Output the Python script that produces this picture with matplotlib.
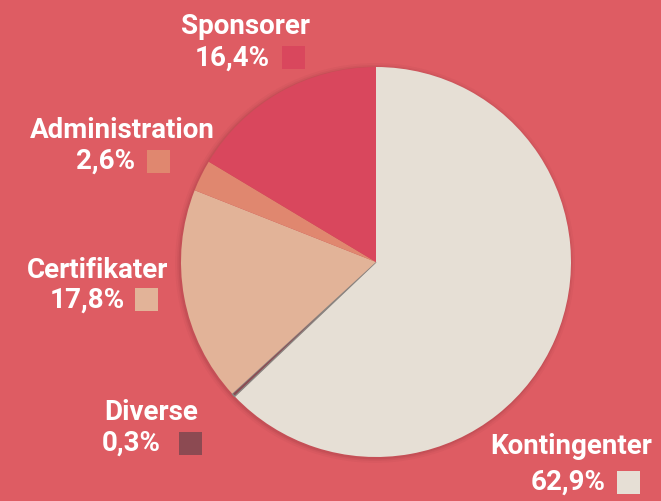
import matplotlib.pyplot as plt
from matplotlib.patches import Rectangle, Circle

W, H = 661, 501

labels = ["Kontingenter", "Diverse", "Certifikater", "Administration", "Sponsorer"]
values = [62.9, 0.3, 17.8, 2.6, 16.4]
pct_text = ["62,9%", "0,3%", "17,8%", "2,6%", "16,4%"]
colors = ["#e6dfd5", "#8c4a52", "#e2b398", "#e0876f", "#d9475d"]
bg = "#de5c63"

fig = plt.figure(figsize=(W / 100, H / 100), dpi=100)
fig.patch.set_facecolor(bg)

cx, cy, r = 376, 262, 195
ax = fig.add_axes([(cx - r) / W, (H - cy - r) / H, 2 * r / W, 2 * r / H])
ax.set_facecolor(bg)

# soft shadow behind the pie
for k, a in [(1.025, 0.06), (1.015, 0.08), (1.007, 0.12)]:
    ax.add_patch(Circle((-0.005, -0.005), k, facecolor="#7a2a30", alpha=a,
                        edgecolor="none", clip_on=False))

wedges, _ = ax.pie(values, colors=colors, startangle=90, counterclock=False,
                   radius=1.0, wedgeprops=dict(linewidth=0))
wedges[1].set_edgecolor("#8a8480")
wedges[1].set_linewidth(1.0)
for w in wedges:
    w.set_clip_on(False)
ax.set_xlim(-1, 1)
ax.set_ylim(-1, 1)
ax.set_aspect("equal")
ax.axis("off")

# label layout in pixels: (name center x, name y, pct right x, pct y, square left x, square y)
layout = {
    "Sponsorer": (245, 27, 270, 58, 282, 57),
    "Administration": (122, 130, 135, 161, 147, 161),
    "Certifikater": (98, 271, 125, 300, 135, 299),
    "Diverse": (151, 413, 161, 443, 179, 443),
    "Kontingenter": (571, 446, 606, 482, 617, 482),
}

font = dict(family="Roboto", weight="bold", color="white", fontsize=20)
for lab, pct, col in zip(labels, pct_text, colors):
    nx, ny, px, py, sx, sy = layout[lab]
    fig.text(nx / W, 1 - ny / H, lab, ha="center", va="center", **font)
    fig.text(px / W, 1 - py / H, pct, ha="right", va="center", **font)
    fig.patches.append(Rectangle((sx / W, 1 - (sy + 12) / H), 23 / W, 23 / H,
                                 transform=fig.transFigure, facecolor=col, edgecolor="none"))

fig.savefig("out.png", dpi=100, facecolor=bg)
